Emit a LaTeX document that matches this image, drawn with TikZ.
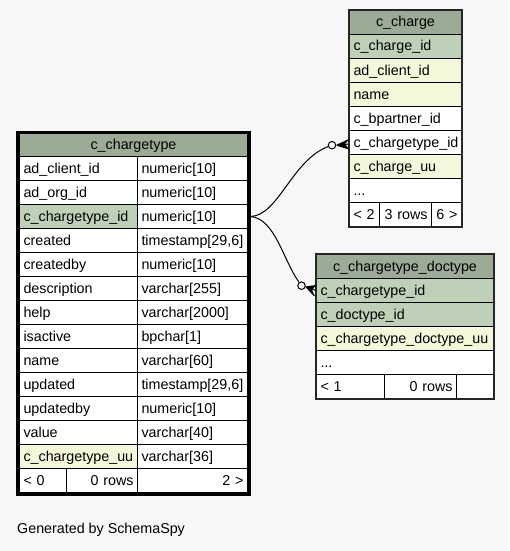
\documentclass[tikz,border=0pt]{standalone}
\usepackage{fontspec}
\setmainfont{Liberation Sans}
\usetikzlibrary{calc}
\definecolor{bgc}{HTML}{F7F7F7}
\definecolor{headc}{HTML}{9BAB96}
\definecolor{pkc}{HTML}{BED1B8}
\definecolor{idxc}{HTML}{F4F7DA}
\newcommand\tabfont{\fontsize{14.3}{16}\selectfont}
\begin{document}
\begin{tikzpicture}[x=1pt,y=-1pt,
  cellbox/.style={draw=black, line width=1pt, anchor=north west, inner xsep=4pt, inner ysep=0pt,
    minimum height=24pt, text height=11pt, text depth=2pt, font=\tabfont, fill=white},
  lc/.style={cellbox, text width=#1, align=left},
  rc/.style={cellbox, text width=#1, align=right},
  hc/.style={cellbox, text width=#1, align=center, fill=headc},
  edge/.style={draw=black, line width=1pt},
  odot/.style={circle, draw=black, line width=1pt, fill=bgc, minimum size=7.5pt, inner sep=0pt},
  crowline/.style={draw=black, line width=1pt},
  outer/.style={draw=black!85, line width=#1}
]
\useasboundingbox (0,0) rectangle (509,551);
\fill[bgc] (0,0) rectangle (509,551);

% ---------- c_chargetype (main) ----------
\node[hc=220pt] (mh) at (19,132) {c\_chargetype};
\node[lc=110pt] (m0a) at (19,156) {ad\_client\_id};
\node[lc=102pt] (m0b) at (137,156) {numeric[10]};
\node[lc=110pt] (m1a) at (19,180) {ad\_org\_id};
\node[lc=102pt] (m1b) at (137,180) {numeric[10]};
\node[lc=110pt, fill=pkc] (m2a) at (19,204) {c\_chargetype\_id};
\node[lc=102pt] (m2b) at (137,204) {numeric[10]};
\node[lc=110pt] (m3a) at (19,228) {created};
\node[lc=102pt] (m3b) at (137,228) {timestamp[29,6]};
\node[lc=110pt] (m4a) at (19,252) {createdby};
\node[lc=102pt] (m4b) at (137,252) {numeric[10]};
\node[lc=110pt] (m5a) at (19,276) {description};
\node[lc=102pt] (m5b) at (137,276) {varchar[255]};
\node[lc=110pt] (m6a) at (19,300) {help};
\node[lc=102pt] (m6b) at (137,300) {varchar[2000]};
\node[lc=110pt] (m7a) at (19,324) {isactive};
\node[lc=102pt] (m7b) at (137,324) {bpchar[1]};
\node[lc=110pt] (m8a) at (19,348) {name};
\node[lc=102pt] (m8b) at (137,348) {varchar[60]};
\node[lc=110pt] (m9a) at (19,372) {updated};
\node[lc=102pt] (m9b) at (137,372) {timestamp[29,6]};
\node[lc=110pt] (m10a) at (19,396) {updatedby};
\node[lc=102pt] (m10b) at (137,396) {numeric[10]};
\node[lc=110pt] (m11a) at (19,420) {value};
\node[lc=102pt] (m11b) at (137,420) {varchar[40]};
\node[lc=110pt, fill=idxc] (m12a) at (19,444) {c\_chargetype\_uu};
\node[lc=102pt] (m12b) at (137,444) {varchar[36]};
\node[lc=39pt] (mf1) at (19,468) {< 0};
\node[rc=63pt] (mf2) at (66,468) {0 rows};
\node[rc=102pt] (mf3) at (137,468) {2 >};
\draw[draw=black, line width=3pt] ([xshift=-1.5pt,yshift=-0.5pt]mh.north west) rectangle ([xshift=1.5pt,yshift=-1.5pt]mf3.south east);

% ---------- c_charge ----------
\node[hc=104pt] (ch) at (349,10) {c\_charge};
\node[lc=104pt, fill=pkc] (cc1) at (349,34) {c\_charge\_id};
\node[lc=104pt, fill=idxc] (cc2) at (349,58) {ad\_client\_id};
\node[lc=104pt, fill=idxc] (cc3) at (349,82) {name};
\node[lc=104pt] (cc4) at (349,106) {c\_bpartner\_id};
\node[lc=104pt] (cc5) at (349,130) {c\_chargetype\_id};
\node[lc=104pt, fill=idxc] (cc6) at (349,154) {c\_charge\_uu};
\node[lc=104pt] (cc7) at (349,178) {...};
\node[lc=22pt] (cf1) at (349,202) {< 2};
\node[rc=44pt] (cf2) at (379,202) {3 rows};
\node[rc=22pt] (cf3) at (431,202) {6 >};
\draw[outer=1.2pt] (ch.north west) rectangle (cf3.south east);

% ---------- c_chargetype_doctype ----------
\node[hc=169pt] (dh) at (316,254) {c\_chargetype\_doctype};
\node[lc=169pt, fill=pkc] (cd1) at (316,278) {c\_chargetype\_id};
\node[lc=169pt, fill=pkc] (cd2) at (316,302) {c\_doctype\_id};
\node[lc=169pt, fill=idxc] (cd3) at (316,326) {c\_chargetype\_doctype\_uu};
\node[lc=169pt] (cd4) at (316,350) {...};
\node[lc=60pt] (df1) at (316,374) {< 1};
\node[rc=64pt] (df2) at (384,374) {0 rows};
\node[rc=29pt] (df3) at (456,374) {};
\draw[outer=1.2pt] (dh.north west) rectangle (df3.south east);

% ---------- connectors ----------
\node[odot] (o1) at (332,145.2) {};
\node[odot] (o2) at (301.5,285.7) {};
\draw[edge] ([xshift=2pt]m2b.east) .. controls (278,216.5) and (292,160) .. (o1);
\draw[edge] ([xshift=2pt]m2b.east) .. controls (275,218) and (283,260) .. (o2);

% crow 1
\coordinate (k1t) at ($(o1.east)+(0.5,0)$);
\coordinate (k1u) at ($(cc5.west)+(0,-3)$);
\coordinate (k1m) at ($(cc5.west)+(0,1.5)$);
\coordinate (k1l) at ($(cc5.west)+(0,6.5)$);
\fill[black] (k1t) -- (k1u) -- ($(k1m)+(-4,0)$) -- (k1l) -- cycle;
\draw[crowline] (k1t) -- (k1u) (k1t) -- (k1m) (k1t) -- (k1l);

% crow 2
\coordinate (k2t) at ($(o2.east)+(0.3,1.2)$);
\coordinate (k2u) at ($(cd1.west)+(0.3,-5)$);
\coordinate (k2m) at ($(cd1.west)+(0,0)$);
\coordinate (k2l) at ($(cd1.west)+(-1.5,5.5)$);
\fill[black] (k2t) -- (k2u) -- ($(k2m)+(-4,-1)$) -- (k2l) -- cycle;
\draw[crowline] (k2t) -- (k2u) (k2t) -- (k2m) (k2t) -- (k2l);

% ---------- footer text ----------
\node[anchor=west, inner sep=0pt, font=\tabfont] (gen) at (17,530) {Generated by SchemaSpy};
\end{tikzpicture}
\end{document}
